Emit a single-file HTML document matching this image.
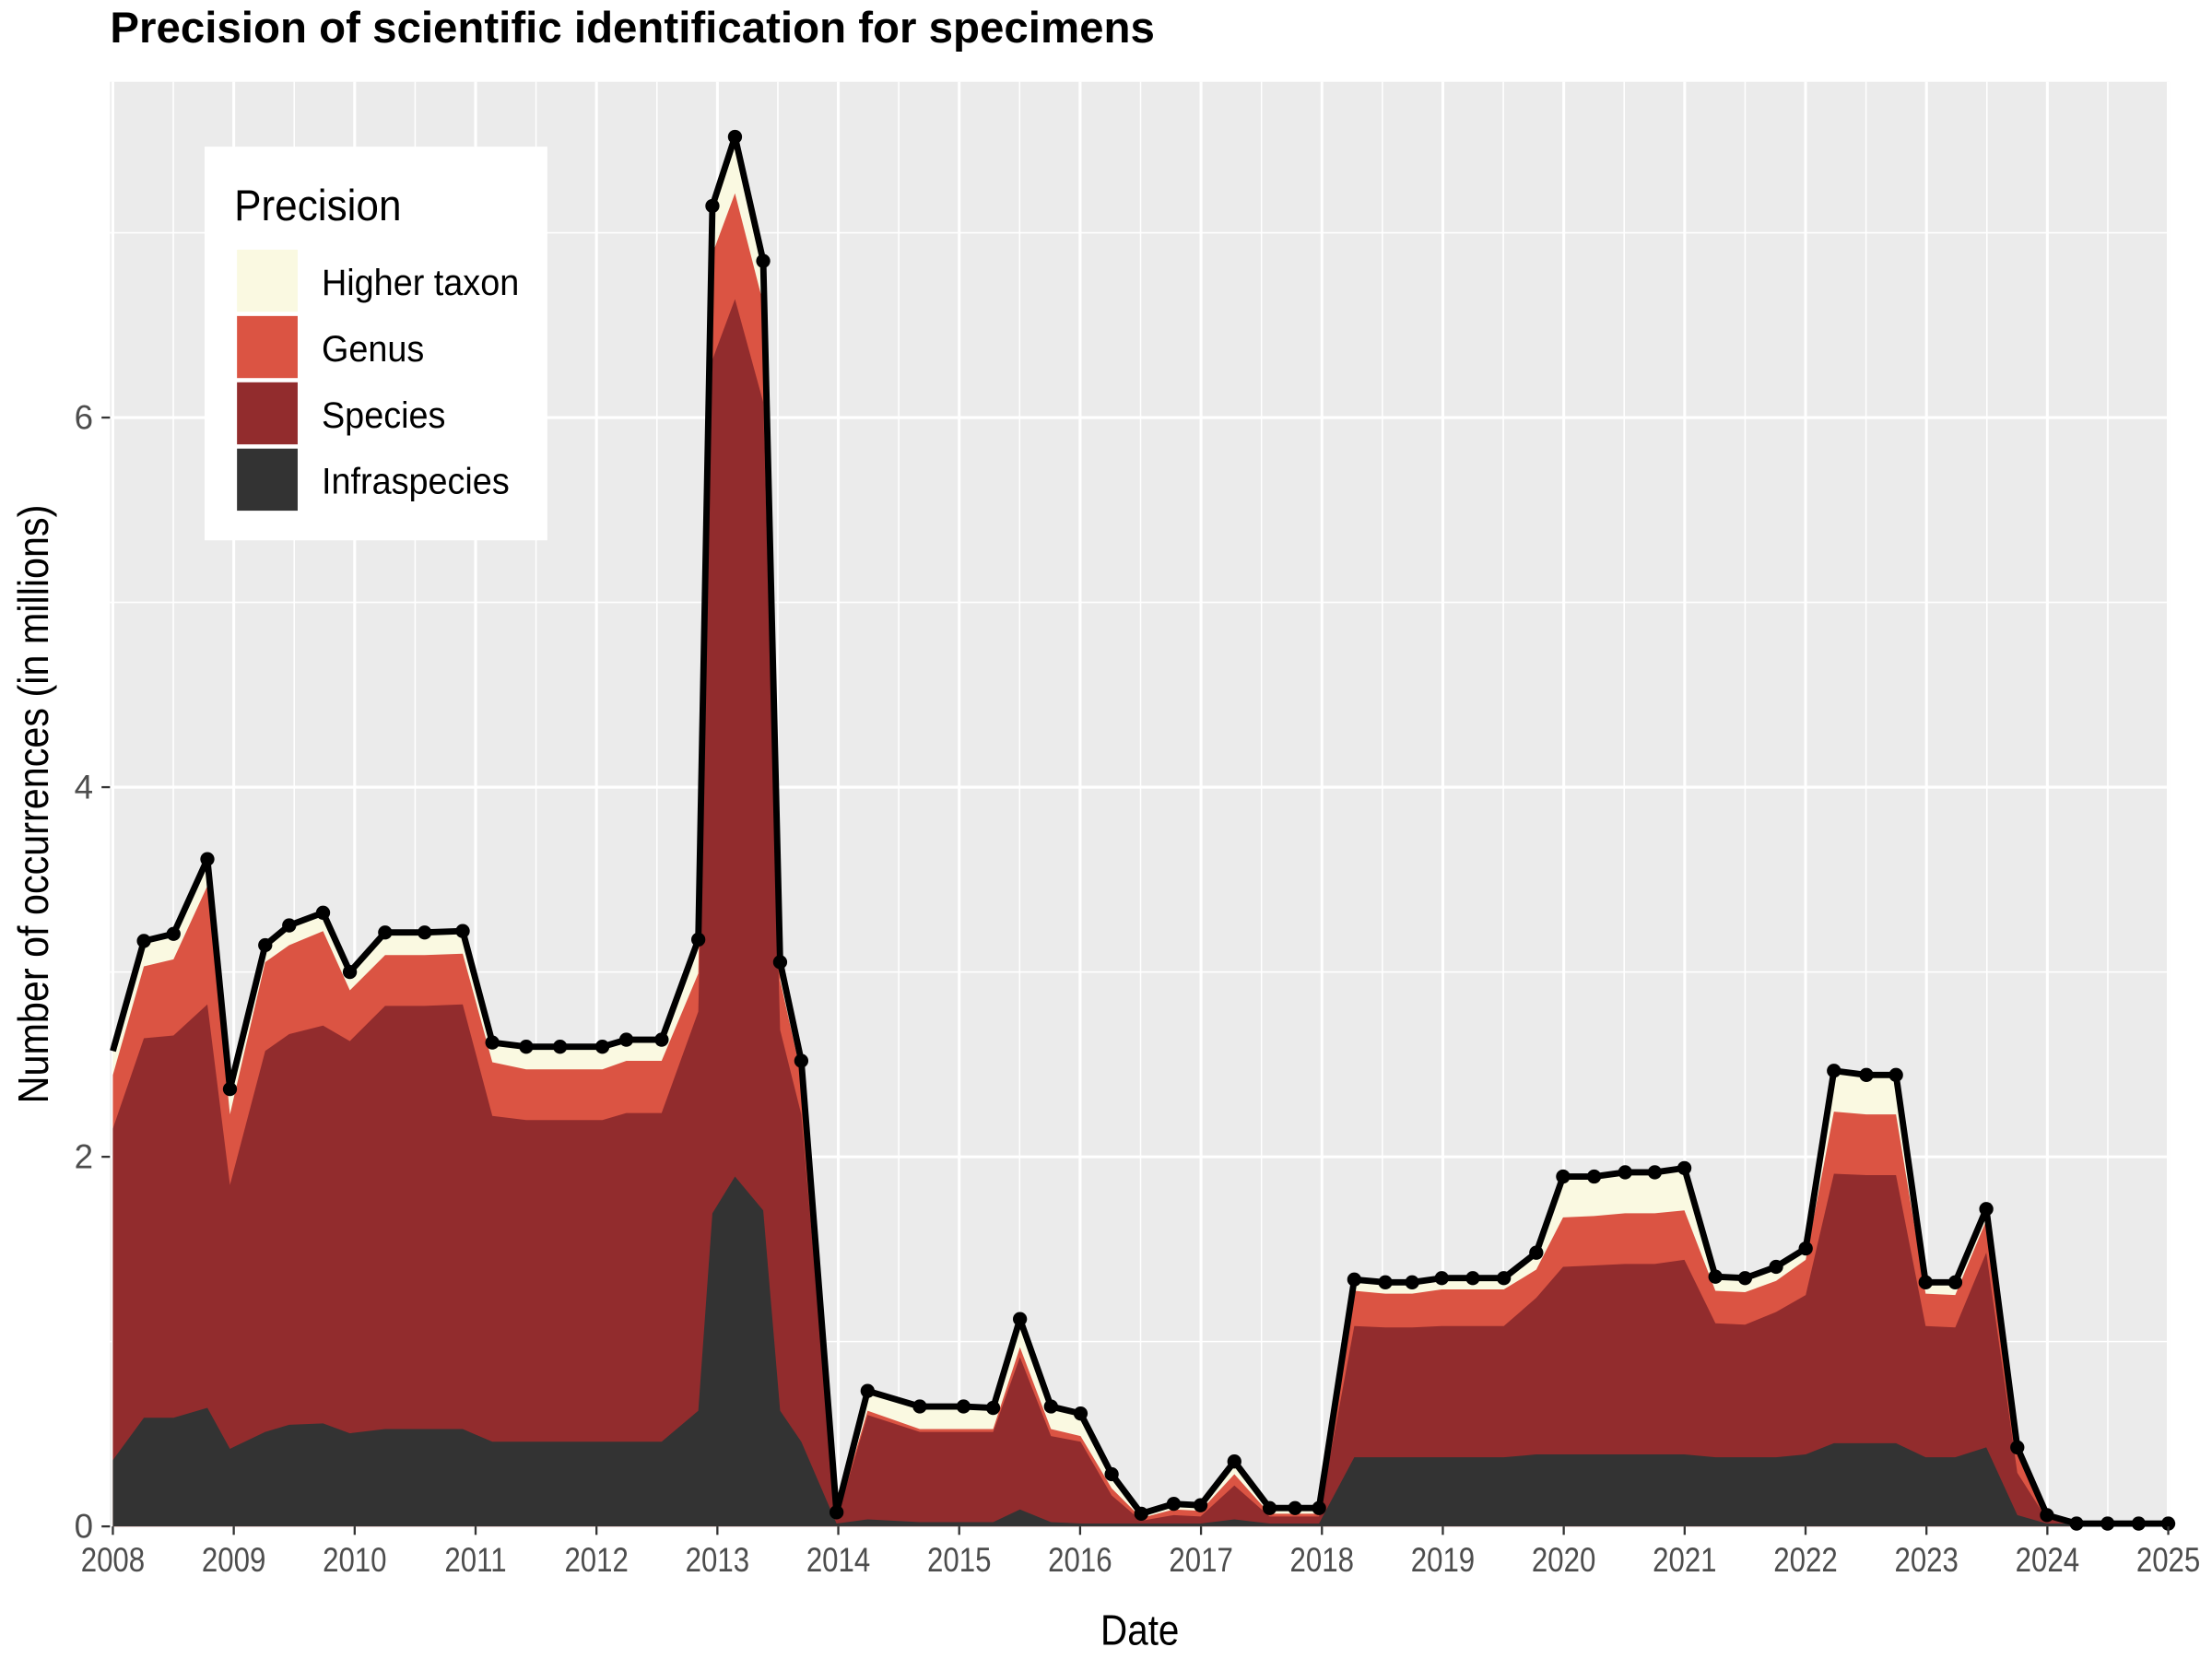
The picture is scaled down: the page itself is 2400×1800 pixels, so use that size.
<!DOCTYPE html>
<html><head><meta charset="utf-8"><style>
html,body{margin:0;padding:0;background:#fff;}
svg{display:block;}
text{font-family:"Liberation Sans",sans-serif;}
</style></head><body>
<svg id="s" width="2400" height="1800" viewBox="0 0 1568 1176" xmlns="http://www.w3.org/2000/svg">
<rect width="1568" height="1176" fill="#fff"/>
<rect x="78" y="58" width="1460" height="1024" fill="#EBEBEB"/>
<g id="grid"></g>
<g id="areas"></g>
<g id="line"></g>
<g id="axes"></g>
<text x="78" y="30" font-size="31" font-weight="bold" fill="#000">Precision of scientific identification for specimens</text>
<text x="808" y="1166" font-size="30" text-anchor="middle" fill="#000" transform="translate(808,1166) scale(0.88,1) translate(-808,-1166)">Date</text>
<text transform="translate(34,570) rotate(-90) scale(0.9,1)" font-size="30" text-anchor="middle" fill="#000">Number of occurrences (in millions)</text>
<g>
<rect x="145" y="104" width="243" height="279" fill="#fff"/>
<text x="166" y="156" font-size="31" fill="#000" transform="translate(166,156) scale(0.93,1) translate(-166,-156)">Precision</text>
<rect x="168" y="177" width="43" height="44" fill="#FAF9E1"/>
<rect x="168" y="224" width="43" height="44" fill="#DB5443"/>
<rect x="168" y="271" width="43" height="44" fill="#922C2D"/>
<rect x="168" y="318" width="43" height="44" fill="#333333"/>
<g font-size="26" fill="#000">
<text x="228" y="209" transform="translate(228,209) scale(0.95,1) translate(-228,-209)">Higher taxon</text>
<text x="228" y="256" transform="translate(228,256) scale(0.95,1) translate(-228,-256)">Genus</text>
<text x="228" y="303" transform="translate(228,303) scale(0.95,1) translate(-228,-303)">Species</text>
<text x="228" y="350" transform="translate(228,350) scale(0.95,1) translate(-228,-350)">Infraspecies</text>
</g>
</g>
</svg>
<script>
var D=[
[80,745,762,800,1035],[102,667,685,736,1005],[123,662,680,734,1005],[147,609,628,712,998],
[163,772,790,840,1027],[188,670,682,745,1015],[205,656,670,733,1010],[229,647,660,727,1009],
[248,689,702,738,1016],[273,661,677,713,1013],[301,661,677,713,1013],[328,660,676,712,1013],
[349,739,753,791,1022],[373,742,758,794,1022],[397,742,758,794,1022],[427,742,758,794,1022],
[444,737,752,789,1022],[469,737,752,789,1022],[495,666,690,717,1000],[505,146,180,255,860],
[521,97,137,212,834],[541,185,215,285,858],[553,682,695,730,1000],[568,752,762,790,1022],
[593,1072,1075,1077,1080],[615,986,1000,1003,1077],[652,997,1013,1015,1079],[683,997,1013,1015,1079],
[704,998,1013,1015,1079],[723,935,955,962,1070],[745,997,1013,1018,1079],[766,1002,1018,1022,1080],
[788,1045,1055,1060,1080],[809,1073,1076,1078,1080],[832,1066,1070,1074,1080],[851,1067,1071,1075,1080],
[875,1036,1045,1053,1077],[900,1069,1073,1075,1080],[918,1069,1073,1075,1080],[935,1069,1073,1075,1080],
[960,907,915,940,1033],[982,909,917,941,1033],[1001,909,917,941,1033],[1022,906,914,940,1033],
[1044,906,914,940,1033],[1066,906,914,940,1033],[1089,888,900,920,1031],[1108,834,863,898,1031],
[1130,834,862,897,1031],[1152,831,860,896,1031],[1173,831,860,896,1031],[1194,828,858,893,1031],
[1216,905,915,938,1033],[1237,906,916,939,1033],[1259,898,908,930,1033],[1280,885,893,918,1031],
[1300,759,788,832,1023],[1323,762,790,833,1023],[1344,762,790,833,1023],[1365,909,917,940,1033],
[1386,909,918,941,1033],[1408,857,865,888,1026],[1430,1026,1027,1044,1074],[1451,1074,1075,1077,1080],
[1472,1080,1080,1080,1080],[1494,1080,1080,1080,1080],[1516,1080,1080,1080,1080],[1537,1080,1080,1080,1080]];
var NS="http://www.w3.org/2000/svg";
function el(p,t,a){var e=document.createElementNS(NS,t);for(var k in a)e.setAttribute(k,a[k]);document.getElementById(p).appendChild(e);return e;}
var x0=80,xs=(1537-80)/17,y0=1082,ys=(1082-820)/2;
for(var i=0;i<=34;i++){var x=x0+i*xs/2;el("grid","line",{x1:x,x2:x,y1:58,y2:1082,stroke:"#fff","stroke-width":i%2?1:2});}
for(var i=0;i<=7;i++){var y=y0-i*ys;el("grid","line",{x1:78,x2:1538,y1:y,y2:y,stroke:"#fff","stroke-width":i%2?1:2});}
var cols=["#FAF9E1","#DB5443","#922C2D","#333333"];
for(var L=1;L<=4;L++){var d="M"+D[0][0]+",1082";D.forEach(function(r){d+="L"+r[0]+","+r[L];});d+="L1537,1082Z";el("areas","path",{d:d,fill:cols[L-1]});}
var d="";D.forEach(function(r,i){d+=(i?"L":"M")+r[0]+","+r[1];});
el("line","path",{d:d,fill:"none",stroke:"#000","stroke-width":4.5,"stroke-linejoin":"round"});
D.forEach(function(r,i){if(i>0)el("line","circle",{cx:r[0],cy:r[1],r:5,fill:"#000"});});
for(var i=0;i<=17;i++){var x=x0+i*xs;el("axes","line",{x1:x,x2:x,y1:1082,y2:1088,stroke:"#333","stroke-width":1.5});
var t=el("axes","text",{x:x,y:1114,"font-size":24,"text-anchor":"middle",fill:"#4D4D4D",transform:"translate("+x+",0) scale(0.85,1) translate("+(-x)+",0)"});t.textContent=2008+i;}
for(var i=0;i<=3;i++){var y=y0-i*2*ys;el("axes","line",{x1:72,x2:78,y1:y,y2:y,stroke:"#333","stroke-width":1.5});
var t=el("axes","text",{x:66,y:y+8,"font-size":24,"text-anchor":"end",fill:"#4D4D4D"});t.textContent=i*2;}
</script>
</body></html>
